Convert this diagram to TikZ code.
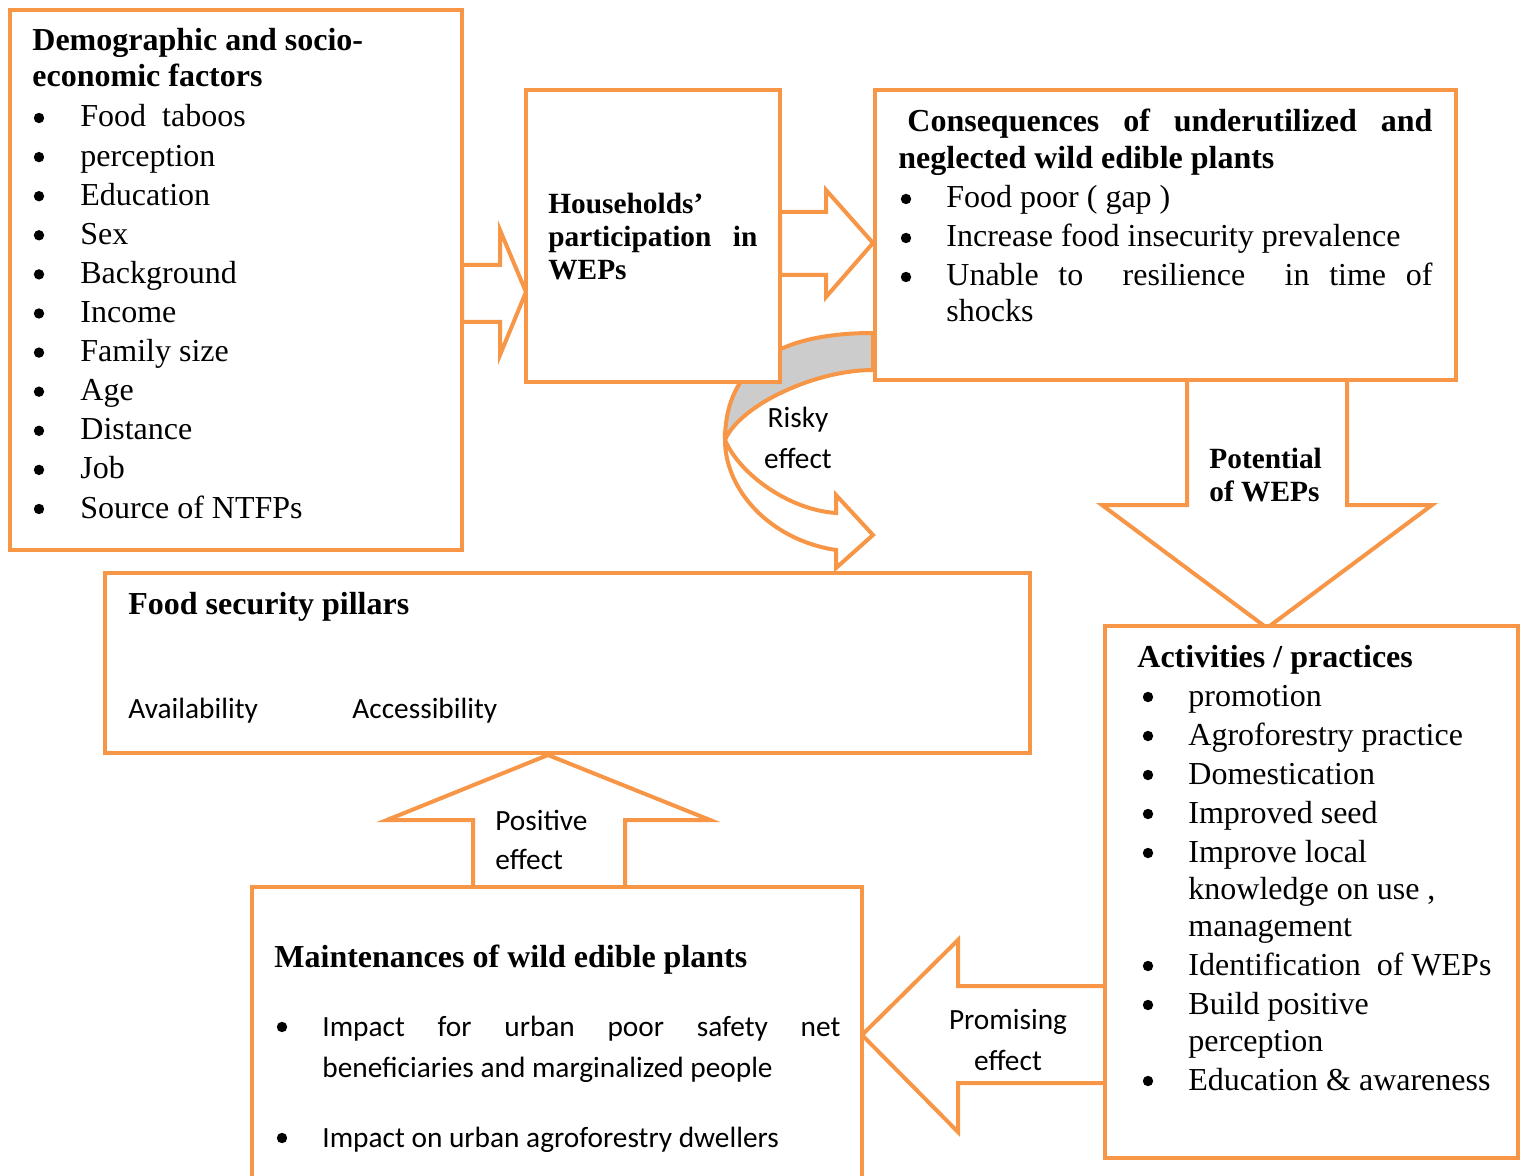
\documentclass[tikz,border=0pt]{standalone}
\usepackage{fontspec}
\setmainfont{Liberation Serif}
\newfontfamily\calfont{Carlito}
\usetikzlibrary{fit}
\definecolor{og}{HTML}{F79646}
\definecolor{gr}{HTML}{CCCCCC}
\begin{document}
\begin{tikzpicture}[x=0.5pt,y=-0.5pt,
 box/.style={draw=og, line width=2pt, fill=white, inner sep=0pt},
 blk/.style={draw=og, line width=2pt, fill=white, line join=miter},
 hd/.style={font=\fontsize{16}{19}\selectfont\bfseries, inner sep=0pt, anchor=base west},
 hds/.style={font=\fontsize{14.67}{16.5}\selectfont\bfseries, inner sep=0pt, anchor=base west},
 itm/.style={font=\fontsize{16}{19}\selectfont, inner sep=0pt, anchor=base west},
 bul/.style={circle, fill=black, inner sep=0pt, minimum size=5.2pt},
 cal/.style={font=\fontsize{14.67}{20}\selectfont\calfont, inner sep=0pt, anchor=base west},
 calc/.style={font=\fontsize{14.67}{20}\selectfont\calfont, inner sep=0pt, anchor=base},
]
\useasboundingbox (0,0) rectangle (1526,1176);

% curved "risky effect" arrow (drawn first, boxes cover it)
\filldraw[draw=og, fill=gr, line width=2pt, line join=round]
  (873,333) .. controls (780,333) and (725,365) .. (725,440)
  .. controls (740,405) and (815,370) .. (873,370) -- cycle;
\filldraw[draw=og, fill=white, line width=2pt, line join=miter]
  (725,440) .. controls (725,490) and (770,540) .. (836,550)
  -- (836,568) -- (873,535) -- (836,495) -- (836,513)
  .. controls (790,510) and (740,475) .. (725,440) -- cycle;

% block arrows
\filldraw[blk] (462,265) -- (500,265) -- (500,230) -- (526,292) -- (500,355) -- (500,322) -- (462,322) -- cycle;
\filldraw[blk] (780,212) -- (826,212) -- (826,190) -- (873,243) -- (826,297) -- (826,275) -- (780,275) -- cycle;
\filldraw[blk] (1187,380) -- (1187,505) -- (1102,505) -- (1267,628) -- (1432,505) -- (1347,505) -- (1347,380) -- cycle;
\filldraw[blk] (473,887) -- (473,820) -- (387,820) -- (548,755) -- (710,820) -- (625,820) -- (625,887) -- cycle;
\filldraw[blk] (1105,986) -- (958,986) -- (958,940) -- (862,1035) -- (958,1132) -- (958,1083) -- (1105,1083) -- cycle;

% boxes
\node[box, fit={(10,10)(462,550)}] (b1) {};
\node[box, fit={(526,90)(780,382)}] (b2) {};
\node[box, fit={(875,90)(1456,380)}] (b3) {};
\node[box, fit={(105,573)(1030,753)}] (b4) {};
\node[box, fit={(1105,626)(1518,1158)}] (b5) {};
\node[box, fit={(252,887)(862,1190)}] (b6) {};

% box 1 text
\node[hd] (h1a) at (32,51) {Demographic and socio-};
\node[hd] (h1b) at (32,87) {economic factors};
\foreach \t [count=\i from 0] in {Food\ \ taboos, perception, Education, Sex, Background, Income, Family size, Age, Distance, Job, Source of NTFPs} {
  \node[bul] (u1\i) at (39,118+39.1*\i) {};
  \node[itm] (t1\i) at (80,127+39.1*\i) {\t};
}

% box 2 text
\node[hds] (h2a) at (548,214) {Households’};
\node[hds] (h2b) at (548,247) {\makebox[104.5pt][s]{participation in}};
\node[hds] (h2c) at (548,280) {WEPs};

% box 3 text
\node[hd] (h3a) at (907,132) {\makebox[262.5pt][s]{Consequences of underutilized and}};
\node[hd] (h3b) at (898,169) {neglected wild edible plants};
\node[bul] (u31) at (906,199) {};
\node[itm] (t31) at (946,208) {Food poor ( gap )};
\node[bul] (u32) at (906,238) {};
\node[itm] (t32) at (946,247) {Increase food insecurity prevalence};
\node[bul] (u33) at (906,277) {};
\node[itm] (t33) at (946,286) {\makebox[243pt][l]{Unable\hfill to\hfill\hfill resilience\hfill\hfill in\hfill time\hfill of}};
\node[itm] (t34) at (946,322) {shocks};

% potential arrow label
\node[hds] (p1) at (1209,469) {Potential};
\node[hds] (p2) at (1209,502) {of WEPs};

% box 4 text
\node[hd] (h4) at (128,614) {Food security pillars};
\node[cal] (t41) at (128,718) {Availability};
\node[cal] (t42) at (352,718) {Accessibility};

% box 5 text
\node[hd] (h5) at (1137,667) {Activities / practices};
\foreach \y/\t [count=\i] in {706/promotion, 745/Agroforestry practice, 784/Domestication, 823/Improved seed, 862/Improve local, 975/Identification\ \ of WEPs, 1014/Build positive, 1090/Education \& awareness} {
  \node[bul] (u5\i) at (1148,\y-9) {};
  \node[itm] (t5\i) at (1188,\y) {\t};
}
\node[itm] (t5a) at (1188,899) {knowledge on use ,};
\node[itm] (t5b) at (1188,936) {management};
\node[itm] (t5c) at (1188,1051) {perception};

% box 6 text
\node[hd] (h6) at (274,967) {Maintenances of wild edible plants};
\node[bul] (u61) at (282,1027) {};
\node[cal] (t61) at (322,1036) {\makebox[259pt][s]{Impact for urban poor safety net}};
\node[cal] (t62) at (322,1077) {beneficiaries and marginalized people};
\node[bul] (u62) at (282,1138) {};
\node[cal] (t63) at (322,1147) {Impact on urban agroforestry dwellers};

% arrow labels
\node[cal] (pos1) at (495,830) {Positive};
\node[cal] (pos2) at (495,869) {effect};
\node[calc] (pr1) at (1008,1029) {Promising};
\node[calc] (pr2) at (1008,1070) {effect};
\node[calc] (r1) at (798,428) {Risky};
\node[calc] (r2) at (798,469) {effect};
\end{tikzpicture}
\end{document}
